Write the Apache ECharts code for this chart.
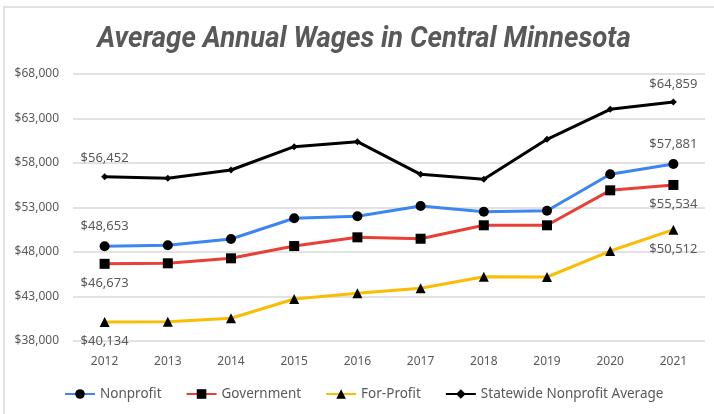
<!DOCTYPE html>
<html>
<head>
<meta charset="utf-8">
<script src="https://cdn.jsdelivr.net/npm/echarts@6/dist/echarts.min.js"></script>
<style>
  html, body { margin: 0; padding: 0; background: #fff; }
  #chart { width: 714px; height: 414px; }
</style>
</head>
<body>
<div id="chart"></div>
<script>
// 数据
const years = ['2012', '2013', '2014', '2015', '2016', '2017', '2018', '2019', '2020', '2021'];
const nonprofit = [48653, 48750, 49460, 51790, 52010, 53170, 52530, 52640, 56730, 57881];
const government = [46673, 46730, 47290, 48670, 49650, 49490, 51000, 51000, 54930, 55534];
const forProfit = [40134, 40170, 40550, 42720, 43360, 43920, 45220, 45190, 48110, 50512];
const statewide = [56452, 56280, 57210, 59830, 60400, 56730, 56170, 60660, 64030, 64859];

const textColor = '#595959';
const money = (v) => '$' + Number(v).toLocaleString('en-US');

// 只在首尾点显示标签
function withEndLabels(values, firstPos, lastPos) {
  return values.map((v, i) => {
    if (i === 0 || i === values.length - 1) {
      return {
        value: v,
        label: {
          show: true,
          position: i === 0 ? firstPos : lastPos,
          distance: 8,
          color: textColor,
          fontSize: 13,
          fontFamily: 'Noto Sans',
          formatter: (p) => money(p.value)
        }
      };
    }
    return v;
  });
}

function makeSeries(name, values, color, symbol, size, firstPos, lastPos) {
  return {
    name: name,
    type: 'line',
    data: withEndLabels(values, firstPos, lastPos),
    symbol: symbol,
    symbolSize: size,
    lineStyle: { color: color, width: 3 },
    itemStyle: { color: '#000' },
    emphasis: { disabled: true },
    z: 3
  };
}

const chart = echarts.init(document.getElementById('chart'));
chart.setOption({
  animation: false,
  backgroundColor: '#fff',
  graphic: [{
    type: 'rect',
    shape: { x: 4, y: 7, width: 760, height: 460 },
    style: { fill: 'none', stroke: '#d9d9d9', lineWidth: 1.5 },
    silent: true,
    z: -1
  }, {
    // 标题：压窄的粗斜体
    type: 'text',
    x: 364,
    y: 39,
    scaleX: 0.92,
    style: {
      text: 'Average Annual Wages in Central Minnesota',
      fill: textColor,
      font: 'italic bold 30px Roboto',
      align: 'center',
      verticalAlign: 'middle'
    },
    silent: true
  }],
  legend: {
    bottom: 8,
    left: 59,
    itemWidth: 30,
    itemHeight: 12,
    itemGap: 24,
    textStyle: { color: textColor, fontSize: 13.5, fontFamily: 'Noto Sans' },
    data: ['Nonprofit', 'Government', 'For-Profit', 'Statewide Nonprofit Average']
  },
  grid: { left: 73, right: 9, top: 74, bottom: 73, containLabel: false },
  xAxis: {
    type: 'category',
    data: years,
    boundaryGap: true,
    axisLine: { show: false },
    axisTick: { show: false },
    axisLabel: { color: textColor, fontSize: 12, fontFamily: 'Noto Sans', margin: 15 }
  },
  yAxis: {
    type: 'value',
    min: 38000,
    max: 68000,
    interval: 5000,
    axisLine: { show: false },
    axisTick: { show: false },
    splitLine: { lineStyle: { color: '#d9d9d9', width: 1.5 } },
    axisLabel: { color: textColor, fontSize: 12, fontFamily: 'Noto Sans', margin: 14, formatter: money }
  },
  series: [
    makeSeries('Nonprofit', nonprofit, '#3d85f0', 'circle', 10, 'top', 'top'),
    makeSeries('Government', government, '#ea3f36', 'rect', 10, 'bottom', 'bottom'),
    makeSeries('For-Profit', forProfit, '#fbbc04', 'triangle', 10, 'bottom', 'bottom'),
    makeSeries('Statewide Nonprofit Average', statewide, '#000000', 'diamond', 7, 'top', 'top')
  ]
});
</script>
</body>
</html>
